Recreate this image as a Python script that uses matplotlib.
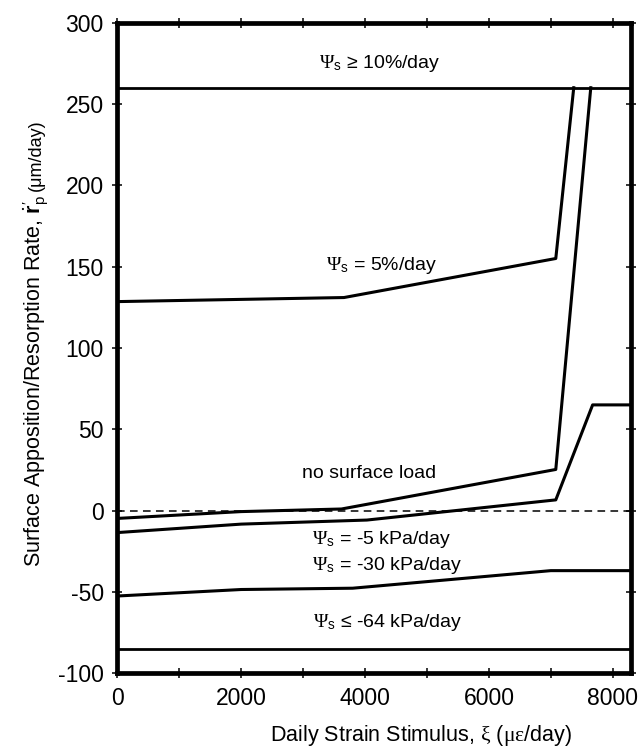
import numpy as np
import matplotlib.pyplot as plt
from matplotlib.ticker import MultipleLocator

plt.rcParams['font.family'] = ['Liberation Sans', 'DejaVu Sans']
plt.rcParams['axes.unicode_minus'] = False
plt.rcParams['mathtext.fontset'] = 'custom'
plt.rcParams['mathtext.rm'] = 'Liberation Serif'
plt.rcParams['mathtext.it'] = 'Liberation Serif:italic'
plt.rcParams['mathtext.sf'] = 'Liberation Sans'
plt.rcParams['mathtext.bf'] = 'Liberation Sans:bold'

# curvas (estimulo en micro-strain/dia, tasa en um/dia)
x_5pct = [0, 3660, 7080, 7370]
y_5pct = [128.5, 131, 155, 260]

x_noload = [0, 2000, 3620, 7080, 7645]
y_noload = [-4.8, -0.6, 1.0, 25.3, 260]

x_5kpa = [0, 2000, 4030, 7080, 7675, 8290]
y_5kpa = [-13.5, -8.3, -5.8, 6.6, 65, 65]

x_30kpa = [0, 2000, 3800, 7000, 8290]
y_30kpa = [-52.5, -48.5, -47.7, -36.9, -36.9]

y_max = 260   # psi >= 10%/day
y_min = -85   # psi <= -64 kPa/day

etiquetas = [r'$\Psi_{\mathsf{s}}$ ≥ 10%/day', r'$\Psi_{\mathsf{s}}$ = 5%/day', 'no surface load',
             r'$\Psi_{\mathsf{s}}$ = -5 kPa/day', r'$\Psi_{\mathsf{s}}$ = -30 kPa/day',
             r'$\Psi_{\mathsf{s}}$ ≤ -64 kPa/day']
etq_x = [4240, 4260, 4070, 4260, 4360, 4370]
etq_y = [275, 151, 23, -17.5, -34, -69]

fig = plt.figure(figsize=(6.4, 7.5), dpi=100)
ax = fig.add_axes([0.1833, 0.1023, 0.8022, 0.8675])

lw = 2.2
ax.axhline(0, color='black', lw=1.1, ls=(0, (5, 3.5)))
ax.axhline(y_max, color='black', lw=2.0)
ax.axhline(y_min, color='black', lw=2.0)
ax.plot(x_5pct, y_5pct, color='black', lw=lw)
ax.plot(x_noload, y_noload, color='black', lw=lw)
ax.plot(x_5kpa, y_5kpa, color='black', lw=lw)
ax.plot(x_30kpa, y_30kpa, color='black', lw=lw)

for t, xx, yy in zip(etiquetas, etq_x, etq_y):
    ax.text(xx, yy, t, ha='center', va='center', fontsize=14)

ax.set_xlim(0, 8290)
ax.set_ylim(-100, 300)
ax.xaxis.set_major_locator(MultipleLocator(2000))
ax.xaxis.set_minor_locator(MultipleLocator(1000))
ax.yaxis.set_major_locator(MultipleLocator(50))
ax.tick_params(which='both', direction='inout', top=True, right=True, length=7.5, width=1.1,
               labelsize=16.5, pad=6)
for s in ax.spines.values():
    s.set_linewidth(3.4)

ax.set_xlabel(r'Daily Strain Stimulus, $\mathrm{\xi}$ ($\mathrm{\mu\varepsilon}$/day)', fontsize=15.5)
ax.xaxis.set_label_coords(0.5915, -0.076)

# etiqueta del eje y en dos partes, la unidad va mas chica
ax.text(-0.1486, 0.7356, r"Surface Apposition/Resorption Rate, $\dot{\mathbf{r}}^{\prime}_{\mathsf{p}}$",
        transform=ax.transAxes, rotation=90, rotation_mode='anchor', ha='right', va='baseline',
        fontsize=15.5)
ax.text(-0.1486, 0.742, '(μm/day)', transform=ax.transAxes, rotation=90, rotation_mode='anchor',
        ha='left', va='baseline', fontsize=13)

plt.savefig('out.png')
plt.close()
